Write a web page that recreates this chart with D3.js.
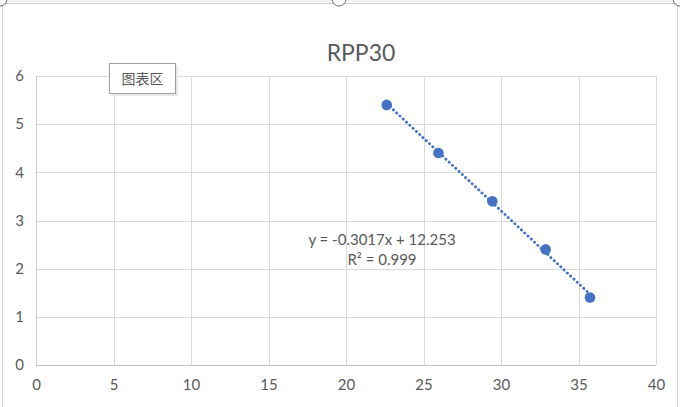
<!DOCTYPE html>
<html>
<head>
<meta charset="utf-8">
<script src="https://cdn.jsdelivr.net/npm/d3@7"></script>
<style>
  html, body { margin: 0; padding: 0; background: #fff; }
  svg { display: block; font-family: Lato, "Open Sans", sans-serif; }
</style>
</head>
<body>
<div id="chart"></div>
<script>
// RPP30 scatter with linear trendline
var xValues = [22.63, 25.96, 29.44, 32.88, 35.74];
var yValues = [5.4, 4.4, 3.4, 2.4, 1.4];
var xTicks = [0, 5, 10, 15, 20, 25, 30, 35, 40];
var yTicks = [0, 1, 2, 3, 4, 5, 6];
var trendCoef = [-0.3017, 12.253];   // slope, intercept
var trendLabels = ["y = -0.3017x + 12.253", "R\u00b2 = 0.999"];
var chartTitle = "RPP30";
var tipText = "图表区";

var W = 680, H = 407;
var plot = {left: 36, right: 656, top: 76, bottom: 365};
var TEXT = "#595959", GRID = "#d9d9d9", BLUE = "#4472c4";

var svg = d3.select("#chart").append("svg")
    .attr("width", W).attr("height", H);

// chart frame + selection handles
svg.append("line").attr("x1", 7).attr("x2", 680).attr("y1", 1).attr("y2", 1)
    .attr("stroke", "#e3e3e3");
svg.append("rect")
    .attr("x", 2.5).attr("y", 3.5).attr("width", 675).attr("height", 410)
    .attr("fill", "none").attr("stroke", "#d0d0d0");
[[0, 0], [339, 0], [680, 0]].forEach(function (p) {
    svg.append("circle").attr("cx", p[0]).attr("cy", p[1] - 1).attr("r", 7)
        .attr("fill", "#fff").attr("stroke", "#6e6e6e").attr("stroke-width", 1);
});

var x = d3.scaleLinear().domain([0, 40]).range([plot.left, plot.right]);
var y = d3.scaleLinear().domain([0, 6]).range([plot.bottom, plot.top]);

// gridlines
svg.append("g").selectAll("line").data(yTicks.slice(1)).join("line")
    .attr("x1", plot.left).attr("x2", plot.right)
    .attr("y1", function (d) { return Math.round(y(d)) + 0.5; })
    .attr("y2", function (d) { return Math.round(y(d)) + 0.5; })
    .attr("stroke", GRID);
svg.append("g").selectAll("line").data(xTicks).join("line")
    .attr("y1", plot.top).attr("y2", plot.bottom)
    .attr("x1", function (d) { return Math.round(x(d)) + 0.5; })
    .attr("x2", function (d) { return Math.round(x(d)) + 0.5; })
    .attr("stroke", function (d) { return d === 0 ? "#c8c8c8" : GRID; });
svg.append("line")
    .attr("x1", plot.left).attr("x2", plot.right)
    .attr("y1", Math.round(y(0)) + 0.5).attr("y2", Math.round(y(0)) + 0.5)
    .attr("stroke", "#bfbfbf");

// axes labels
var xAxis = d3.axisBottom(x).tickValues(xTicks).tickFormat(d3.format("d"))
    .tickSize(0).tickPadding(14);
var yAxis = d3.axisLeft(y).tickValues(yTicks).tickFormat(d3.format("d"))
    .tickSize(0).tickPadding(12);
var gx = svg.append("g").attr("transform", "translate(0," + plot.bottom + ")").call(xAxis);
var gy = svg.append("g").attr("transform", "translate(" + plot.left + ",0)").call(yAxis);
[gx, gy].forEach(function (g) {
    g.select(".domain").remove();
    g.selectAll("text").attr("fill", TEXT).style("font-size", "15px")
        .style("font-family", "Lato, 'Open Sans', sans-serif");
});

// title
svg.append("text").attr("x", 361).attr("y", 61).attr("text-anchor", "middle")
    .attr("fill", TEXT).style("font-size", "23px").text(chartTitle);

// trendline
var xr = d3.extent(xValues);
svg.append("line")
    .attr("x1", x(xr[0])).attr("y1", y(trendCoef[0] * xr[0] + trendCoef[1]))
    .attr("x2", x(xr[1])).attr("y2", y(trendCoef[0] * xr[1] + trendCoef[1]))
    .attr("stroke", BLUE).attr("stroke-width", 2.9)
    .attr("stroke-linecap", "round").attr("stroke-dasharray", "0.1 4.4");

// points
svg.append("g").selectAll("circle").data(xValues).join("circle")
    .attr("cx", function (d) { return x(d); })
    .attr("cy", function (d, i) { return y(yValues[i]); })
    .attr("r", 5.3).attr("fill", BLUE);

// trendline label
var lbl = svg.append("text").attr("fill", TEXT).style("font-size", "15px")
    .attr("text-anchor", "middle");
lbl.append("tspan").attr("x", 382).attr("y", 245).text(trendLabels[0]);
lbl.append("tspan").attr("x", 382).attr("y", 265).text(trendLabels[1]);

// hover tip
var tip = svg.append("g");
tip.append("rect").attr("x", 111).attr("y", 65).attr("width", 67).attr("height", 31)
    .attr("fill", "#e8e8e8");
tip.append("rect").attr("x", 109.5).attr("y", 63.5).attr("width", 66).attr("height", 30)
    .attr("fill", "#fff").attr("stroke", "#a0a0a0");
tip.append("text").attr("x", 142.5).attr("y", 84).attr("text-anchor", "middle")
    .attr("fill", TEXT).style("font-size", "14px")
    .style("font-family", "'Noto Sans CJK SC', sans-serif").text(tipText);
</script>
</body>
</html>
